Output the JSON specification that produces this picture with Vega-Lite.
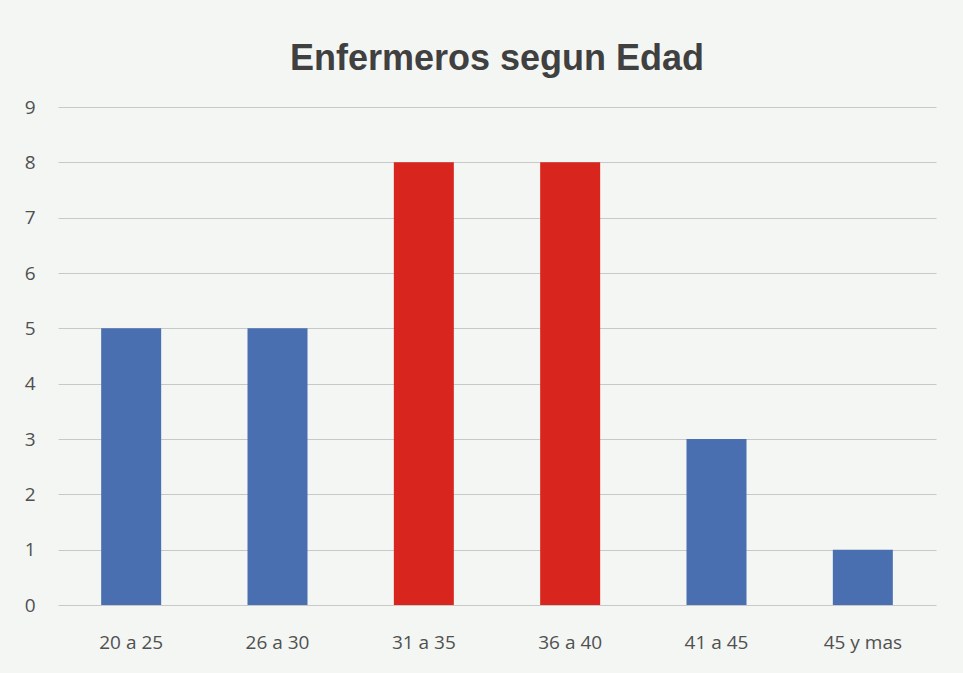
{
  "$schema": "https://vega.github.io/schema/vega-lite/v6.json",
  "width": 878,
  "height": 498,
  "autosize": "none",
  "padding": {"left": 58, "top": 107, "right": 27, "bottom": 68},
  "background": "#f4f6f4",
  "title": {
    "text": "Enfermeros segun Edad",
    "fontSize": 36,
    "font": "Liberation Sans",
    "fontWeight": "bold",
    "color": "#404040",
    "offset": 20,
    "anchor": "middle"
  },
  "data": {
    "values": [
      {"edad": "20 a 25", "n": 5},
      {"edad": "26 a 30", "n": 5},
      {"edad": "31 a 35", "n": 8},
      {"edad": "36 a 40", "n": 8},
      {"edad": "41 a 45", "n": 3},
      {"edad": "45 y mas", "n": 1}
    ]
  },
  "mark": {"type": "bar"},
  "encoding": {
    "x": {
      "field": "edad",
      "type": "nominal",
      "sort": null,
      "scale": {"paddingInner": 0.59, "paddingOuter": 0.295},
      "axis": {
        "title": null,
        "labelAngle": 0,
        "labelFont": "Open Sans",
        "labelFontSize": 19,
        "labelColor": "#505050",
        "labelPadding": 28,
        "domain": false,
        "ticks": false
      }
    },
    "y": {
      "field": "n",
      "type": "quantitative",
      "scale": {"domain": [0, 9], "nice": false},
      "axis": {
        "title": null,
        "values": [0, 1, 2, 3, 4, 5, 6, 7, 8, 9],
        "labelOverlap": false,
        "labelFont": "Open Sans",
        "labelFontSize": 19,
        "labelColor": "#505050",
        "labelPadding": 23,
        "domain": false,
        "ticks": false,
        "gridColor": "#c8c8c8",
        "gridWidth": 1
      }
    },
    "color": {
      "condition": {"test": "datum.n >= 8", "value": "#d8261e"},
      "value": "#4a6fb0"
    }
  },
  "config": {"view": {"stroke": null}}
}
